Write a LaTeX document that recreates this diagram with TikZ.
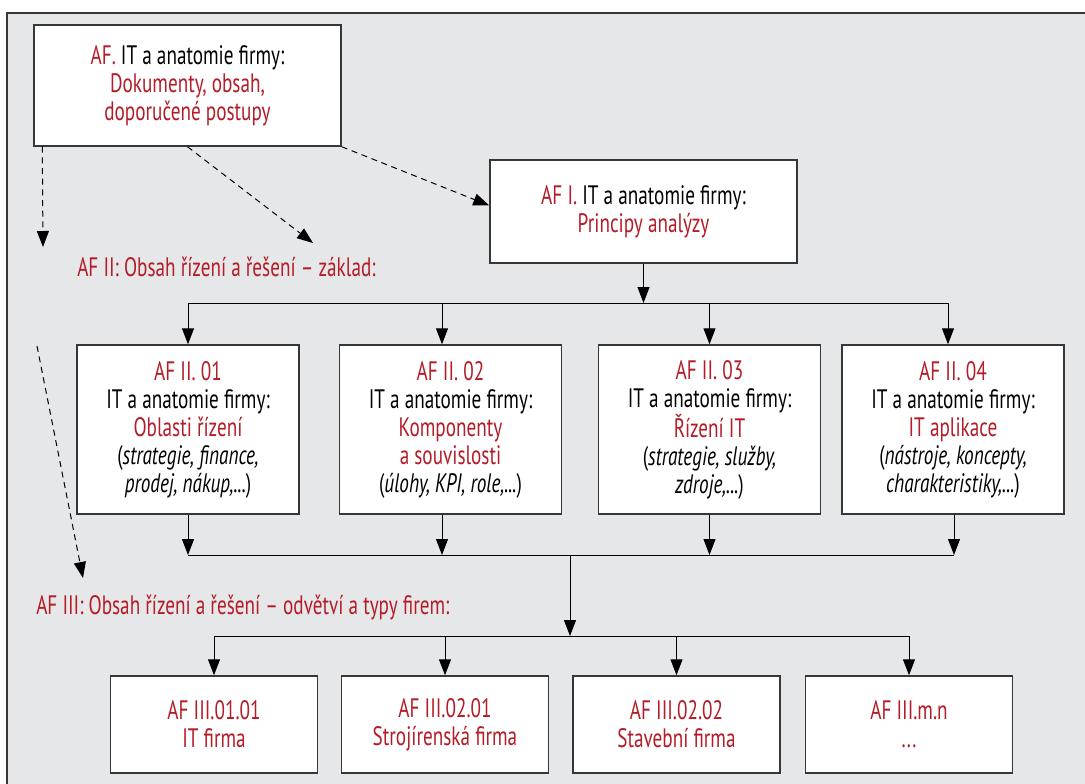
\documentclass[tikz,border=0pt]{standalone}
\usepackage{fontspec}
\setmainfont{PT Sans}[FakeStretch=0.72]
\usetikzlibrary{arrows.meta,calc}
\definecolor{afred}{RGB}{180,28,40}
\definecolor{afgray}{RGB}{230,231,233}
\definecolor{afline}{RGB}{55,55,55}
\newcommand{\rd}[1]{\textcolor{afred}{#1}}
\begin{document}
\begin{tikzpicture}[x=0.75pt,y=-0.75pt,>={Triangle[length=12pt,width=9pt]},
  box/.style={draw=afline,line width=1.1pt,fill=white,align=center,inner sep=0pt,font=\fontsize{20}{21}\selectfont},
  mainbox/.style={box,minimum width=230.25pt,minimum height=#1},
  areabox/.style={box,minimum width=166.5pt,minimum height=126.75pt},
  firmbox/.style={box,minimum width=155pt,minimum height=72.75pt,text=afred},
  head/.style={anchor=west,inner sep=0pt,text=afred,font=\fontsize{20}{21}\selectfont},
  link/.style={->,line width=0.75pt},
  hint/.style={->,line width=0.75pt,dash pattern=on 4.5pt off 3.5pt}]
\useasboundingbox (0,0) rectangle (1085,783);
\clip (0,0) rectangle (1085,783);
\draw[draw=afline,line width=1.1pt,fill=afgray] (7,13) rectangle (1100,800);
% top level
\node[mainbox=90.75pt] (af) at (187.5,85.5) {\rd{AF.} IT a anatomie firmy:\\\rd{Dokumenty, obsah,}\\\rd{doporučené postupy}};
\node[mainbox=77.25pt] (afi) at (643.5,211.5) {\rd{AF I.} IT a anatomie firmy:\\\rd{Principy analýzy}};
\node[head] (h2) at (77,267) {AF II: Obsah řízení a řešení – základ:};
\node[head] (h3) at (36,607) {AF III: Obsah řízení a řešení – odvětví a typy firem:};
\coordinate (d1) at (43,247);\coordinate (d2) at (313,243);
\coordinate (d4a) at (37,346);\coordinate (d4b) at (83,578);
\draw[hint] ($(af.south west)+(9,0)$)--(d1);
\draw[hint] (af.south)--(d2);
\draw[hint] (af.south east)--($(afi.west)+(0,-6)$);
\draw[hint] (d4a)--(d4b);
% AF II
\node[areabox] (a01) at (188,429.5) {\rd{AF II. 01}\\IT a anatomie firmy:\\\rd{Oblasti řízení}\\(\textit{strategie, finance,}\\\textit{prodej, nákup,...})};
\node[areabox] (a02) at (450.5,429.5) {\rd{AF II. 02}\\IT a anatomie firmy:\\\rd{Komponenty}\\\rd{a souvislosti}\\(\textit{úlohy, KPI, role,...})};
\node[areabox] (a03) at (709.5,429.5) {\rd{AF II. 03}\\IT a anatomie firmy:\\\rd{Řízení IT}\\(\textit{strategie, služby,}\\\textit{zdroje,...})};
\node[areabox] (a04) at (953,429.5) {\rd{AF II. 04}\\IT a anatomie firmy:\\\rd{IT aplikace}\\(\textit{nástroje, koncepty,}\\\textit{charakteristiky,...})};
\coordinate (bus1) at (0,303);\coordinate (bus2) at (0,555);\coordinate (bus3) at (0,636);
\coordinate (in2) at ($(a02.north)+(-8.5,0)$);\coordinate (out2) at ($(a02.south)+(-8.5,0)$);
\coordinate (in4) at ($(a04.north)+(-5,0)$);\coordinate (out4) at ($(a04.south)+(1,0)$);
\draw[link] (afi.south)--(afi.south|-bus1);
\draw[line width=0.75pt] (a01.north|-bus1)--(in4|-bus1);
\draw[link] (a01.north|-bus1)--(a01.north);\draw[link] (in2|-bus1)--(in2);
\draw[link] (a03.north|-bus1)--(a03.north);\draw[link] (in4|-bus1)--(in4);
\draw[link] (a01.south)--(a01.south|-bus2);\draw[link] (out2)--(out2|-bus2);
\draw[link] (a03.south)--(a03.south|-bus2);\draw[link] (out4)--(out4|-bus2);
\draw[line width=0.75pt] (a01.south|-bus2)--(out4|-bus2);
% AF III
\node[firmbox] (b01) at (214,724.5) {AF III.01.01\\IT firma};
\node[firmbox] (b02) at (445,724.5) {AF III.02.01\\Strojírenská firma};
\node[firmbox] (b03) at (676.5,724.5) {AF III.02.02\\Stavební firma};
\node[firmbox] (b04) at (909,724.5) {AF III.m.n\\...};
\coordinate (mid) at (570,555);
\draw[link] (mid)--(mid|-bus3);
\draw[line width=0.75pt] (b01.north|-bus3)--(b04.north|-bus3);
\foreach \n in {b01,b02,b03,b04} \draw[link] (\n.north|-bus3)--(\n.north);
\end{tikzpicture}
\end{document}
